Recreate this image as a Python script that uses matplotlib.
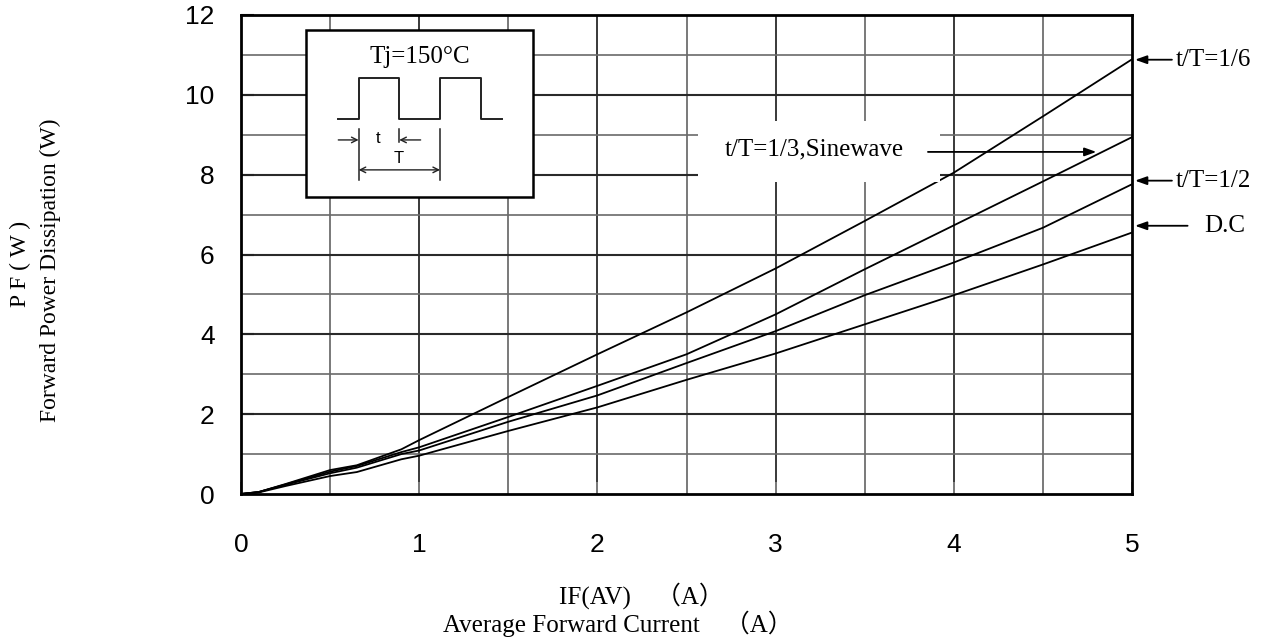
import matplotlib
matplotlib.use("Agg")
import matplotlib.pyplot as plt
from matplotlib.patches import Rectangle

# ---- data ----
current = [0, 0.1, 0.25, 0.5, 0.65, 0.9, 1.0, 1.5, 2.0, 2.5, 3.0, 3.5, 4.0, 4.5, 5.0]
pf_1_6 = [0, 0.05, 0.25, 0.60, 0.72, 1.12, 1.35, 2.43, 3.50, 4.55, 5.65, 6.84, 8.05, 9.46, 10.89]
pf_1_3 = [0, 0.05, 0.24, 0.56, 0.70, 1.05, 1.17, 1.93, 2.71, 3.50, 4.50, 5.63, 6.73, 7.83, 8.94]
pf_1_2 = [0, 0.05, 0.23, 0.52, 0.66, 1.00, 1.09, 1.81, 2.47, 3.28, 4.08, 4.98, 5.80, 6.67, 7.76]
pf_dc = [0, 0.04, 0.20, 0.45, 0.55, 0.87, 0.96, 1.58, 2.17, 2.86, 3.52, 4.25, 4.98, 5.75, 6.55]

x_ticks = [0, 1, 2, 3, 4, 5]
y_ticks = [0, 2, 4, 6, 8, 10, 12]
x_label_1 = "IF(AV)\u3000（A）"
x_label_2 = "Average Forward Current\u3000（A）"
y_label_1 = "P F ( W )"
y_label_2 = "Forward Power Dissipation (W)"

SERIF = ["Liberation Serif", "Noto Sans CJK JP", "DejaVu Sans"]
SANS = ["Liberation Sans", "DejaVu Sans"]

W, H = 1266, 643
fig = plt.figure(figsize=(W / 100, H / 100), dpi=100)
ax = fig.add_axes([241 / W, 1 - 494 / H, (1132 - 241) / W, (494 - 15) / H])
ax.set_xlim(0, 5)
ax.set_ylim(0, 12)

# grid
for i in range(0, 11):
    xv = i * 0.5
    if 0 < xv < 5:
        major = (i % 2 == 0)
        ax.axvline(xv, color="#2a2a2a" if major else "#555555",
                   lw=1.3 if major else 1.1, zorder=1)
for yv in range(1, 12):
    major = (yv % 2 == 0)
    ax.axhline(yv, color="#2a2a2a" if major else "#6a6a6a",
               lw=1.5 if major else 1.2, zorder=1)

# curves
for series in (pf_1_6, pf_1_3, pf_1_2, pf_dc):
    ax.plot(current, series, color="black", lw=1.3, zorder=3)

for s in ax.spines.values():
    s.set_linewidth(2.0)
    s.set_color("black")
    s.set_zorder(6)

ax.set_xticks(x_ticks)
ax.set_yticks(y_ticks)
ax.set_xticklabels([str(v) for v in x_ticks], family=SANS, fontsize=19)
ax.set_yticklabels([str(v) for v in y_ticks], family=SANS, fontsize=19)
ax.tick_params(axis="x", direction="in", length=9, width=1.2, color="#888888", pad=28)
ax.tick_params(axis="y", direction="in", length=9, width=1.5, color="#222222", pad=19)

# axis labels
fig.text(641 / W, 1 - 596 / H, x_label_1, family=SERIF, fontsize=18,
         ha="center", va="center")
fig.text(618 / W, 1 - 624 / H, x_label_2, family=SERIF, fontsize=18,
         ha="center", va="center")
fig.text(20 / W, 1 - 264 / H, y_label_1, family=SERIF, fontsize=17,
         rotation=90, ha="center", va="center")
fig.text(50 / W, 1 - 270 / H, y_label_2, family=SERIF, fontsize=17,
         rotation=90, ha="center", va="center")

# inset box with waveform
ax.add_patch(Rectangle((0.365, 7.44), 1.637 - 0.365, 11.63 - 7.44,
                       facecolor="white", edgecolor="black", lw=1.8, zorder=4))
ax.text(1.004, 10.95, "Tj=150°C", family=SERIF, fontsize=18,
        ha="center", va="center", zorder=5)
wx = [0.546, 0.660, 0.660, 0.888, 0.888, 1.117, 1.117, 1.345, 1.345, 1.463]
wy = [9.40, 9.40, 10.43, 10.43, 9.40, 9.40, 10.43, 10.43, 9.40, 9.40]
ax.plot(wx, wy, color="#222222", lw=1.4, zorder=5)
ax.plot([0.660, 0.660], [7.86, 9.15], color="#222222", lw=1.1, zorder=5)
ax.plot([0.888, 0.888], [8.81, 9.15], color="#222222", lw=1.1, zorder=5)
ax.plot([1.117, 1.117], [7.86, 9.15], color="#222222", lw=1.1, zorder=5)
ax.annotate("", xy=(0.660, 8.87), xytext=(0.546, 8.87), zorder=5,
            arrowprops=dict(arrowstyle="->", lw=1.0, color="#222222",
                            shrinkA=0, shrinkB=0))
ax.annotate("", xy=(0.888, 8.87), xytext=(1.008, 8.87), zorder=5,
            arrowprops=dict(arrowstyle="->", lw=1.0, color="#222222",
                            shrinkA=0, shrinkB=0))
ax.annotate("", xy=(0.660, 8.12), xytext=(1.117, 8.12), zorder=5,
            arrowprops=dict(arrowstyle="<->", lw=1.0, color="#222222",
                            shrinkA=0, shrinkB=0))
ax.text(0.770, 8.90, "t", family=SANS, fontsize=12, ha="center", va="center", zorder=5)
ax.text(0.883, 8.40, "T", family=SANS, fontsize=12, ha="center", va="center", zorder=5)

# t/T=1/3, Sinewave label with white box
ax.add_patch(Rectangle((2.565, 7.81), 3.923 - 2.565, 9.35 - 7.81,
                       facecolor="white", edgecolor="none", zorder=4))
ax.text(3.216, 8.64, "t/T=1/3,Sinewave", family=SERIF, fontsize=18,
        ha="center", va="center", zorder=5)
ax.annotate("", xy=(4.80, 8.57), xytext=(3.855, 8.57), zorder=5,
            arrowprops=dict(arrowstyle="-|>,head_length=0.7,head_width=0.25",
                            lw=1.3, color="black", shrinkA=0, shrinkB=0))

# right-side labels
def right_label(text, y, x_tail, x_text):
    ax.annotate("", xy=(5.017, y), xytext=(x_tail, y), annotation_clip=False,
                arrowprops=dict(arrowstyle="-|>,head_length=0.7,head_width=0.25",
                                lw=1.3, color="black", shrinkA=0, shrinkB=0))
    ax.text(x_text, y, text, family=SERIF, fontsize=18, ha="left", va="center",
            clip_on=False)

right_label("t/T=1/6", 10.88, 5.224, 5.247)
right_label("t/T=1/2", 7.85, 5.224, 5.247)
right_label("D.C", 6.72, 5.312, 5.407)

fig.savefig("out.png", dpi=100)
